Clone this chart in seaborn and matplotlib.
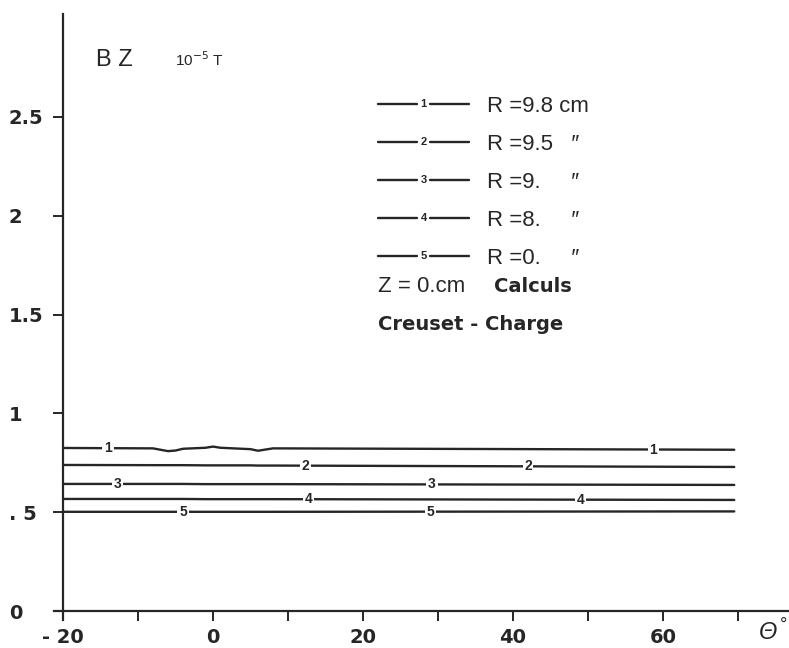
import numpy as np
import pandas as pd
import matplotlib
matplotlib.use("Agg")
from matplotlib import pyplot as plt
from matplotlib.lines import Line2D
from matplotlib.text import Text
from matplotlib.legend_handler import HandlerBase
from matplotlib.ticker import FixedLocator
import seaborn as sns

# values (BZ in 10^-5 T versus theta in degrees)
theta = [-20, -8, -7, -6, -5, -4, -1, 0, 1, 5, 6, 7, 8, 69.5]
bz_r98 = [0.825, 0.823, 0.816, 0.809, 0.812, 0.821, 0.826, 0.832, 0.826, 0.819, 0.811, 0.817, 0.823, 0.816]
bz_r95 = [0.739, 0.738, 0.738, 0.738, 0.738, 0.738, 0.737, 0.737, 0.737, 0.737, 0.736, 0.736, 0.736, 0.729]
bz_r9 = [0.643, 0.643, 0.643, 0.643, 0.643, 0.643, 0.642, 0.642, 0.642, 0.642, 0.642, 0.642, 0.642, 0.638]
bz_r8 = [0.567, 0.567, 0.567, 0.567, 0.567, 0.567, 0.566, 0.566, 0.566, 0.566, 0.566, 0.566, 0.566, 0.562]
bz_r0 = [0.502, 0.502, 0.502, 0.502, 0.502, 0.502, 0.502, 0.502, 0.502, 0.502, 0.502, 0.502, 0.502, 0.504]

curve_ids = ["1", "2", "3", "4", "5"]
curve_names = ["R =9.8 cm", "R =9.5   \u2033", "R =9.     \u2033", "R =8.     \u2033", "R =0.     \u2033"]
# where the curve numbers sit along each line (theta)
curve_label_theta = {"1": [-14, 58.7], "2": [12.3, 42], "3": [-12.7, 29.2], "4": [12.7, 49], "5": [-4, 29]}

x_major = [-20, 0, 20, 40, 60]
x_major_labels = ["- 20", "0", "20", "40", "60"]
x_minor = [-10, 10, 30, 50, 70]
y_ticks = [0, 0.5, 1, 1.5, 2, 2.5]
y_tick_labels = ["0", ". 5", "1", "1.5", "2", "2.5"]

df = pd.concat([
    pd.DataFrame({"theta": theta, "bz": vals, "curve": cid})
    for cid, vals in zip(curve_ids, [bz_r98, bz_r95, bz_r9, bz_r8, bz_r0])
])

sns.set_style("ticks")
plt.rcParams["font.family"] = ["Liberation Sans", "DejaVu Sans"]
ink = "#262626"
wide = ["DejaVu Sans"]

fig = plt.figure(figsize=(7.89, 6.48), dpi=100)
ax = fig.add_axes([54 / 789, 28 / 648, 735 / 789, 606 / 648])

sns.lineplot(data=df, x="theta", y="bz", hue="curve", hue_order=curve_ids,
             palette={c: ink for c in curve_ids}, estimator=None, sort=False,
             linewidth=1.7, legend=False, ax=ax)

ax.set_xlim(-21.2, 76.8)
ax.set_ylim(-0.0455, 3.021)
ax.set_xlabel("")
ax.set_ylabel("")

for s in ["top", "right"]:
    ax.spines[s].set_visible(False)
ax.spines["left"].set_position(("data", -20))
ax.spines["bottom"].set_position(("data", 0))
for s in ["left", "bottom"]:
    ax.spines[s].set_color(ink)
    ax.spines[s].set_linewidth(1.6)

ax.xaxis.set_major_locator(FixedLocator(x_major))
ax.xaxis.set_minor_locator(FixedLocator(x_minor))
ax.set_xticklabels(x_major_labels, fontsize=14, fontweight="bold", color=ink, family=wide)
ax.tick_params(axis="x", which="both", direction="out", length=7, width=1.4, color=ink, pad=5)
ax.set_yticks(y_ticks)
ax.set_yticklabels(y_tick_labels, fontsize=14, fontweight="bold", color=ink, family=wide)
ax.tick_params(axis="y", direction="out", length=7, width=1.4, color=ink, pad=32)
for lab in ax.get_yticklabels():
    lab.set_ha("left")

# curve numbers written on the lines
for cid, vals in zip(curve_ids, [bz_r98, bz_r95, bz_r9, bz_r8, bz_r0]):
    for t in curve_label_theta[cid]:
        ax.text(t, np.interp(t, theta, vals), cid, fontsize=10, fontweight="bold", color=ink,
                ha="center", va="center", zorder=5,
                bbox=dict(facecolor="white", edgecolor="none", pad=1.2))


class NumberedLineHandler(HandlerBase):
    def __init__(self, number):
        super().__init__()
        self.number = number

    def create_artists(self, legend, orig_handle, xdescent, ydescent, width, height, fontsize, trans):
        y = height / 2 - ydescent
        x0 = -xdescent
        mid = x0 + width / 2
        gap = 0.07 * width
        kw = dict(color=orig_handle.get_color(), linewidth=orig_handle.get_linewidth())
        left = Line2D([x0, mid - gap], [y, y], **kw)
        right = Line2D([mid + gap, x0 + width], [y, y], **kw)
        num = Text(mid, y, self.number, fontsize=8, fontweight="bold", color=ink, ha="center", va="center")
        for a in (left, right, num):
            a.set_transform(trans)
        return [left, right, num]


handles = ax.lines[:len(curve_ids)]
leg = ax.legend(handles, curve_names, loc="upper left",
                bbox_to_anchor=(378 / 789, 1 - 96 / 648), bbox_transform=fig.transFigure,
                frameon=False, fontsize=16, borderpad=0, borderaxespad=0,
                handlelength=4.1, handletextpad=0.8, labelspacing=0.76,
                handler_map={h: NumberedLineHandler(c) for h, c in zip(handles, curve_ids)})
for t in leg.get_texts():
    t.set_color(ink)

ax.text(-15.6, 2.79, "B Z", fontsize=17, color=ink, va="center")
ax.text(-5.1, 2.79, "10$^{-5}$ T", fontsize=11, color=ink, va="center")
ax.text(22.0, 1.64, "Z = 0.cm", fontsize=16, color=ink, va="center")
ax.text(37.5, 1.64, "Calculs", fontsize=14, fontweight="bold", color=ink, va="center", family=wide)
ax.text(22.0, 1.45, "Creuset - Charge", fontsize=14, fontweight="bold", color=ink, va="center", family=wide)
ax.text(74.0, -0.11, "\u0398", fontsize=17, style="italic", color=ink, ha="center", va="center", clip_on=False)
ax.text(76.1, -0.07, "\u00b0", fontsize=13, color=ink, ha="center", va="center", clip_on=False)

fig.savefig("out.png", dpi=100, facecolor="white")
